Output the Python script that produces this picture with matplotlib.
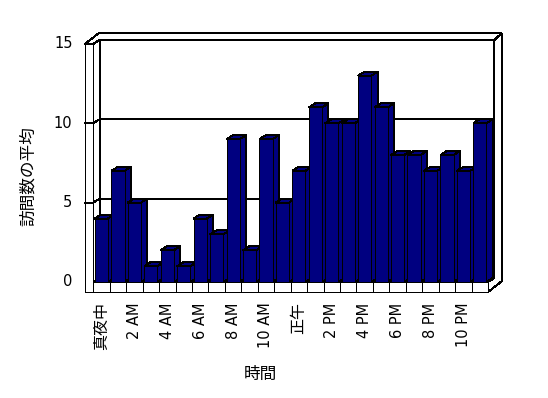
import matplotlib
matplotlib.use("Agg")
import matplotlib.pyplot as plt
from matplotlib.patches import Polygon, Rectangle

# ---- data ----
hours = ["真夜中", "1 AM", "2 AM", "3 AM", "4 AM", "5 AM", "6 AM", "7 AM", "8 AM", "9 AM",
         "10 AM", "11 AM", "正午", "1 PM", "2 PM", "3 PM", "4 PM", "5 PM", "6 PM", "7 PM",
         "8 PM", "9 PM", "10 PM", "11 PM"]
visits = [4, 7, 5, 1, 2, 1, 4, 3, 9, 2, 9, 5, 7, 11, 10, 10, 13, 11, 8, 8, 7, 8, 7, 10]
yticks = [0, 5, 10, 15]
xlabel = "時間"
ylabel = "訪問数の平均"

# ---- layout (pixel based scales) ----
W, H = 548, 398
sx, sy = 16.45, 15.87          # px per category / per unit
x0px, y0px = 101.5, 282.0      # pixel of category 0 centre / value 0 (front)
def px2x(p): return (p - x0px) / sx
def px2y(p): return (y0px - p) / sy

fig = plt.figure(figsize=(W / 100, H / 100), dpi=100)
ax = fig.add_axes([0, 0, 1, 1])
ax.set_xlim(px2x(0), px2x(W))
ax.set_ylim(px2y(H), px2y(0))
ax.axis("off")

n = len(visits)
ymax = 15
ddx, ddy = 6.3 / sx, 4.0 / sy          # depth of bars / back wall plane
tx, ty = 7.3 / sx, 6.7 / sy            # wall thickness
fl = 10.0 / sy                          # floor thickness
L, R = -0.5, n - 0.5
LO = -1.0
lw = 0.72
face = "#000080"
ec = "black"
AA = False

def poly(pts, fc="white", z=1):
    ax.add_patch(Polygon(pts, closed=True, fc=fc, ec=ec, lw=lw, zorder=z,
                         joinstyle="miter", antialiased=AA))

# back wall front surface
poly([(L + ddx, ddy), (R + ddx, ddy), (R + ddx, ymax + ddy), (L + ddx, ymax + ddy)])
# left wall inner face
poly([(L, 0), (L, ymax), (L + ddx, ymax + ddy), (L + ddx, ddy)])
# floor top
poly([(L, 0), (R, 0), (R + ddx, ddy), (L + ddx, ddy)])
# wall top face
poly([(LO, ymax), (L, ymax), (L + ddx, ymax + ddy), (R + ddx, ymax + ddy),
      (R + ddx + tx, ymax + ddy + ty), (LO + ddx + tx, ymax + ddy + ty)])
# right side face
poly([(R, 0), (R + ddx, ddy), (R + ddx, ymax + ddy), (R + ddx + tx, ymax + ddy + ty),
      (R + ddx + tx, -fl + ddy + ty), (R, -fl)])
# left wall front face
poly([(LO, -fl), (L, -fl), (L, ymax), (LO, ymax)])
# floor front with dividers
poly([(L, -fl), (R, -fl), (R, 0), (L, 0)])
for k in range(n + 1):
    ax.plot([L + k, L + k], [-fl, 0], color=ec, lw=lw, zorder=2, antialiased=AA)

# gridlines
for v in yticks[1:-1]:
    ax.plot([LO, L, L + ddx, R + ddx], [v, v, v + ddy, v + ddy], color=ec, lw=lw,
            zorder=2, antialiased=AA)

# bars
bw = 0.8
for i, v in enumerate(visits):
    xl, xr = i - bw / 2, i + bw / 2
    z = 3 + i * 0.01
    poly([(xr, 0), (xr + ddx, ddy), (xr + ddx, v + ddy), (xr, v)], fc=face, z=z)
    poly([(xl, v), (xr, v), (xr + ddx, v + ddy), (xl + ddx, v + ddy)], fc=face, z=z)
    ax.add_patch(Rectangle((xl, 0), bw, v, fc=face, ec=ec, lw=lw, zorder=z + 0.005,
                           antialiased=AA))

# y tick labels
for v in yticks:
    ax.text(LO - 12.5 / sx, v, str(v), ha="right", va="center", fontsize=10.5,
            family=["DejaVu Sans"])

# x tick labels
fam = ["DejaVu Sans", "Noto Sans CJK JP"]
for i in range(0, n, 2):
    lab = hours[i]
    cjk = any(ord(c) > 0x2E80 for c in lab)
    ax.text(i, px2y(302.5), lab, rotation=90, ha="center", va="top",
            fontsize=11.5 if cjk else 10.5, family=fam)

fig.text(260 / W, 1 - 374.5 / H, xlabel, ha="center", va="center", fontsize=12,
         family=["Noto Sans CJK JP"])
fig.text(28.5 / W, 1 - 176 / H, ylabel, ha="center", va="center", rotation=90,
         fontsize=12, family=["Noto Sans CJK JP"])

fig.savefig("out.png", dpi=100, facecolor="white")
